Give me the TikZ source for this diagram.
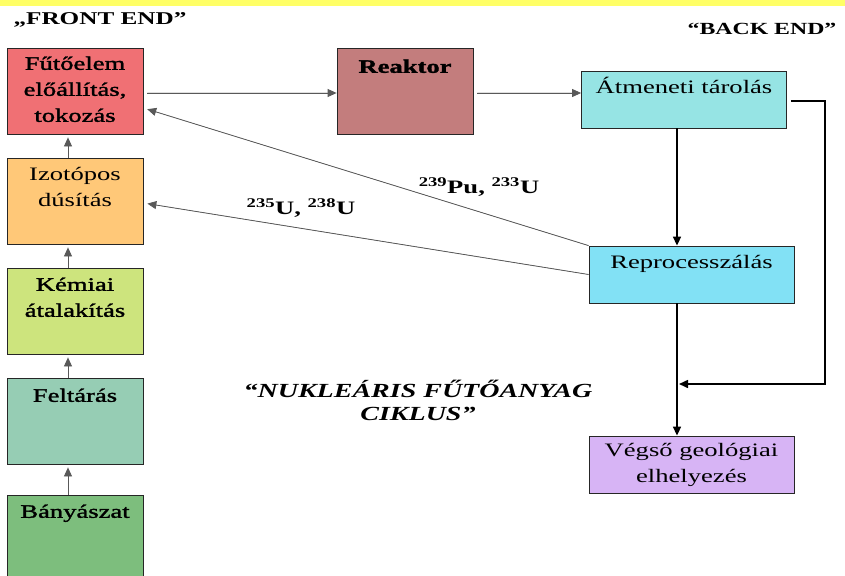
\documentclass[tikz,border=0pt]{standalone}
\usepackage{fontspec}
\setmainfont{Liberation Serif}[FakeStretch=1.4]
\newfontfamily\heavyfont{Liberation Serif}[FakeStretch=1.4,FakeBold=1.6]
\usetikzlibrary{positioning,arrows.meta}

\definecolor{bandcol}{RGB}{255,255,102}
\definecolor{futocol}{RGB}{240,112,116}
\definecolor{izotopcol}{RGB}{255,200,120}
\definecolor{kemiaicol}{RGB}{205,228,125}
\definecolor{feltarcol}{RGB}{150,205,180}
\definecolor{banyacol}{RGB}{125,190,125}
\definecolor{reaktorcol}{RGB}{195,125,125}
\definecolor{atmcol}{RGB}{150,228,228}
\definecolor{reproccol}{RGB}{130,225,245}
\definecolor{vegsocol}{RGB}{215,180,245}

\newcommand{\boxsize}{\fontsize{19}{26}\selectfont}

\begin{document}
\begin{tikzpicture}[x=1pt, y=-1pt,
box/.style={rectangle, draw=black!85, line width=0.8pt, minimum width=136pt, minimum height=86pt, inner sep=0pt},
widebox/.style={box, minimum width=205pt, minimum height=57pt, align=center, font=\boxsize},
boxtext/.style={inner sep=0pt, text height=14pt, align=center},
arr/.style={-{Triangle[length=9pt,width=8pt]}, line width=0.8pt, draw=black!65, fill=black},
strongarr/.style={-{Triangle[length=9pt,width=8pt]}, line width=1.6pt, draw=black},
isolabel/.style={font=\boxsize\bfseries}
]
\useasboundingbox (0,0) rectangle (845,575);
\clip (0,0) rectangle (845,575);
\fill[bandcol] (0,0) rectangle (845,6);

\node[font=\fontsize{18}{20}\selectfont\bfseries](front) at (100,20){„FRONT END”};
\node[font=\fontsize{17}{20}\selectfont\bfseries](back) at (762,29){“BACK END”};

\node[box, fill=futocol](futo) at (75,91){};
\node[box, fill=izotopcol](izotop)[below of = futo, node distance=110pt]{};
\node[box, fill=kemiaicol](kemiai)[below of = izotop, node distance=110pt]{};
\node[box, fill=feltarcol](feltaras)[below of = kemiai, node distance=110pt]{};
\node[box, fill=banyacol](banya)[below of = feltaras, node distance=117pt]{};
\node[box, fill=reaktorcol](reaktor)[right of = futo, node distance=330pt]{};

\node[widebox, fill=atmcol](atmeneti) at (684,99.5){};
\node[widebox, fill=reproccol](reproc) at (691.5,274.5){};
\node[widebox, fill=vegsocol](vegso)[below of = reproc, node distance=190pt]{Végső geológiai\\elhelyezés};

\node[boxtext, text height=64pt, font=\heavyfont\boxsize](futo_t)[below=10pt of futo.north]{Fűtőelem\\előállítás,\\tokozás};
\node[boxtext, text height=39pt, font=\boxsize](izotop_t)[below=10pt of izotop.north]{Izotópos\\dúsítás};
\node[boxtext, text height=39pt, font=\heavyfont\boxsize](kemiai_t)[below=10pt of kemiai.north]{Kémiai\\átalakítás};
\node[boxtext, font=\heavyfont\boxsize](feltaras_t)[below=10pt of feltaras.north]{Feltárás};
\node[boxtext, font=\heavyfont\boxsize](banya_t)[below=9pt of banya.north]{Bányászat};
\node[boxtext, font=\heavyfont\boxsize\bfseries](reaktor_t)[below=11pt of reaktor.north]{Reaktor};
\node[boxtext, font=\boxsize](atmeneti_t)[below=9pt of atmeneti.north]{Átmeneti tárolás};
\node[boxtext, font=\boxsize](reproc_t)[below=9pt of reproc.north]{Reprocesszálás};

\node[font=\fontsize{20}{23}\selectfont\bfseries\itshape, align=center](ciklus) at (418,400){“NUKLEÁRIS FŰTŐANYAG\\CIKLUS”};

\coordinate (col) at (677,0);
\coordinate (loop) at (825,384);

% bal oszlop
\draw[arr, shorten >=3pt] ([xshift=-7pt]banya.north) -- ([xshift=-7pt]feltaras.south);
\draw[arr, shorten >=3pt] ([xshift=-7pt]feltaras.north) -- ([xshift=-7pt]kemiai.south);
\draw[arr, shorten >=3pt] ([xshift=-7pt]kemiai.north) -- ([xshift=-7pt]izotop.south);
\draw[arr, shorten >=3pt] ([xshift=-7pt]izotop.north) -- ([xshift=-7pt]futo.south);

\draw[arr, shorten <=4pt] ([yshift=-2pt]futo.east) -- ([yshift=-2pt]futo.east -| reaktor.west);
\draw[arr, shorten <=4pt] ([yshift=-2pt]reaktor.east) -- ([yshift=-2pt]reaktor.east -| atmeneti.west);

% jobb oldal
\draw[strongarr] (atmeneti.south -| col) -- (reproc.north -| col);
\draw[strongarr] (reproc.south -| col) -- (vegso.north -| col);
\draw[strongarr, shorten <=4pt, shorten >=2pt] ([yshift=-1.5pt]atmeneti.east) -| (loop) -- (loop -| col);

\draw[arr, shorten >=4pt] (reproc.north west) -- ([yshift=-17pt]futo.east);
\draw[arr, shorten >=4pt] (reproc.west) -- ([yshift=-2pt]izotop.east);

\node[isolabel](pu) at (479,187){\textsuperscript{239}Pu, \textsuperscript{233}U};
\node[isolabel](u) at (301,208){\textsuperscript{235}U, \textsuperscript{238}U};

\end{tikzpicture}
\end{document}
